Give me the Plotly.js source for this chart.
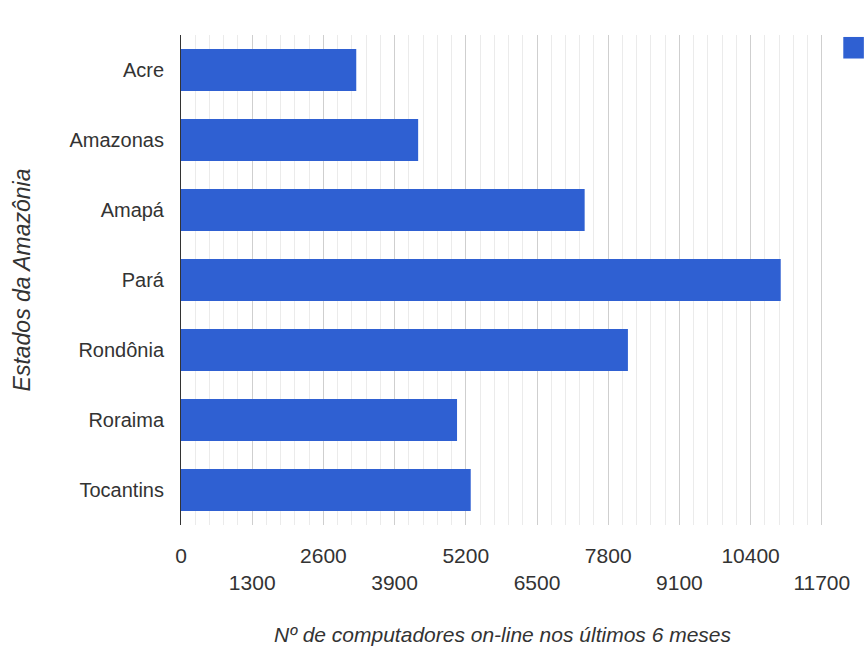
<!DOCTYPE html>
<html>
<head>
<meta charset="utf-8">
<script src="https://cdn.plot.ly/plotly-3.0.1.min.js"></script>
<style>html,body{margin:0;padding:0;background:#fff;}#chart{width:866px;height:649px;}</style>
</head>
<body>
<div id="chart"></div>
<script>
const states = ['Acre','Amazonas','Amapá','Pará','Rondônia','Roraima','Tocantins'];
const computers = [3200, 4330, 7370, 10950, 8160, 5040, 5290];
const tickValsRow1 = [0, 2600, 5200, 7800, 10400];
const tickValsRow2 = [1300, 3900, 6500, 9100, 11700];
const allTicks = [0, 1300, 2600, 3900, 5200, 6500, 7800, 9100, 10400, 11700];
const xTitle = 'Nº de computadores on-line nos últimos 6 meses';
const yTitle = 'Estados da Amazônia';

const FONT = '"Liberation Sans", Arial, sans-serif';

const trace = {
  type: 'bar',
  orientation: 'h',
  y: states,
  x: computers,
  marker: {color: '#2f60d2', line: {width: 0}},
  showlegend: false,
  hoverinfo: 'x+y'
};

const layout = {
  width: 866, height: 649,
  margin: {l: 181, r: 42, t: 35, b: 124},
  paper_bgcolor: '#fff', plot_bgcolor: '#fff',
  font: {family: FONT, color: '#333', size: 20},
  bargap: 0.4,
  showlegend: false,
  xaxis: {
    range: [0, 11740],
    tickmode: 'array',
    tickvals: allTicks,
    ticktext: allTicks.map(v => tickValsRow2.includes(v) ? '<br>' + v : String(v)),
    showgrid: true, gridcolor: '#cfcfcf', gridwidth: 1,
    minor: {dtick: 260, showgrid: true, gridcolor: '#ebebeb', gridwidth: 1},
    zeroline: false, showline: false, ticks: '',
    ticklabelstandoff: 16,
    tickfont: {size: 21, color: '#333'},
    title: {text: xTitle, font: {size: 21, color: '#333', family: FONT, style: 'italic'}, standoff: 34}
  },
  yaxis: {
    autorange: 'reversed',
    showgrid: false, zeroline: false,
    showline: true, linecolor: '#333', linewidth: 1,
    ticks: '', ticklabelstandoff: 12,
    tickfont: {size: 20, color: '#333'},
    title: {text: yTitle, font: {size: 23, color: '#333', family: FONT, style: 'italic'}, standoff: 32}
  },
  shapes: [
    {type: 'rect', xref: 'paper', yref: 'paper', x0: 1.03, x1: 1.062, y0: 0.952, y1: 0.996,
     fillcolor: '#2f60d2', line: {width: 0}}
  ]
};

Plotly.newPlot('chart', [trace], layout, {displayModeBar: false, staticPlot: true});
</script>
</body>
</html>
